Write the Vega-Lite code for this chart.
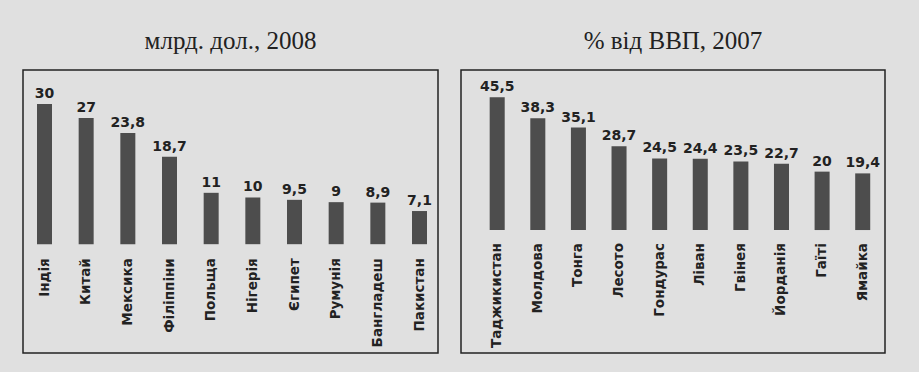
{
  "$schema": "https://vega.github.io/schema/vega-lite/v6.json",
  "background": "#e0e0e0",
  "padding": {"left": 22, "top": 28, "right": 37, "bottom": 18},
  "config": {
    "view": {"stroke": "#222", "strokeWidth": 1.5},
    "concat": {"spacing": 21},
    "locale": {"number": {"decimal": ",", "thousands": " ", "grouping": [3], "currency": ["", ""]}},
    "title": {"font": "Liberation Serif", "fontSize": 25, "fontWeight": "normal", "color": "#222", "offset": 16}
  },
  "datasets": {
    "remit": [
      {"country": "Індія", "value": 30},
      {"country": "Китай", "value": 27},
      {"country": "Мексика", "value": 23.8},
      {"country": "Філіппіни", "value": 18.7},
      {"country": "Польща", "value": 11},
      {"country": "Нігерія", "value": 10},
      {"country": "Єгипет", "value": 9.5},
      {"country": "Румунія", "value": 9},
      {"country": "Бангладеш", "value": 8.9},
      {"country": "Пакистан", "value": 7.1}
    ],
    "gdp": [
      {"country": "Таджикистан", "value": 45.5},
      {"country": "Молдова", "value": 38.3},
      {"country": "Тонга", "value": 35.1},
      {"country": "Лесото", "value": 28.7},
      {"country": "Гондурас", "value": 24.5},
      {"country": "Ліван", "value": 24.4},
      {"country": "Гвінея", "value": 23.5},
      {"country": "Йорданія", "value": 22.7},
      {"country": "Гаїті", "value": 20},
      {"country": "Ямайка", "value": 19.4}
    ]
  },
  "hconcat": [
    {
      "title": "млрд. дол., 2008",
      "width": 415,
      "height": 283,
      "data": {"name": "remit"},
      "encoding": {
        "x": {"field": "country", "type": "nominal", "sort": null, "axis": null,
              "scale": {"paddingInner": 0.64, "paddingOuter": 0.3, "align": 0.56}}
      },
      "layer": [
        {
          "mark": {"type": "bar", "color": "#4d4d4d"},
          "encoding": {
            "y": {"field": "value", "type": "quantitative", "axis": null,
                  "scale": {"domain": [-23.3, 37.3], "nice": false, "zero": false}}
          }
        },
        {
          "mark": {"type": "text", "font": "DejaVu Sans", "fontWeight": "bold", "fontSize": 14, "color": "#222", "baseline": "alphabetic", "dy": -6},
          "encoding": {
            "y": {"field": "value", "type": "quantitative"},
            "text": {"field": "value", "type": "quantitative", "format": ".1~f"}
          }
        },
        {
          "mark": {"type": "text", "font": "DejaVu Sans", "fontWeight": "bold", "fontSize": 13.5, "color": "#222", "angle": 270, "align": "right", "baseline": "middle"},
          "encoding": {
            "y": {"datum": -3.0, "type": "quantitative"},
            "text": {"field": "country"}
          }
        }
      ]
    },
    {
      "title": "% від ВВП, 2007",
      "width": 424,
      "height": 283,
      "data": {"name": "gdp"},
      "encoding": {
        "x": {"field": "country", "type": "nominal", "sort": null, "axis": null,
              "scale": {"paddingInner": 0.63, "paddingOuter": 0.535, "align": 0.66}}
      },
      "layer": [
        {
          "mark": {"type": "bar", "color": "#4d4d4d"},
          "encoding": {
            "y": {"field": "value", "type": "quantitative", "axis": null,
                  "scale": {"domain": [-42.1, 54.8], "nice": false, "zero": false}}
          }
        },
        {
          "mark": {"type": "text", "font": "DejaVu Sans", "fontWeight": "bold", "fontSize": 14, "color": "#222", "baseline": "alphabetic", "dy": -6},
          "encoding": {
            "y": {"field": "value", "type": "quantitative"},
            "text": {"field": "value", "type": "quantitative", "format": ".1~f"}
          }
        },
        {
          "mark": {"type": "text", "font": "DejaVu Sans", "fontWeight": "bold", "fontSize": 13.5, "color": "#222", "angle": 270, "align": "right", "baseline": "middle"},
          "encoding": {
            "y": {"datum": -4.45, "type": "quantitative"},
            "text": {"field": "country"}
          }
        }
      ]
    }
  ]
}
